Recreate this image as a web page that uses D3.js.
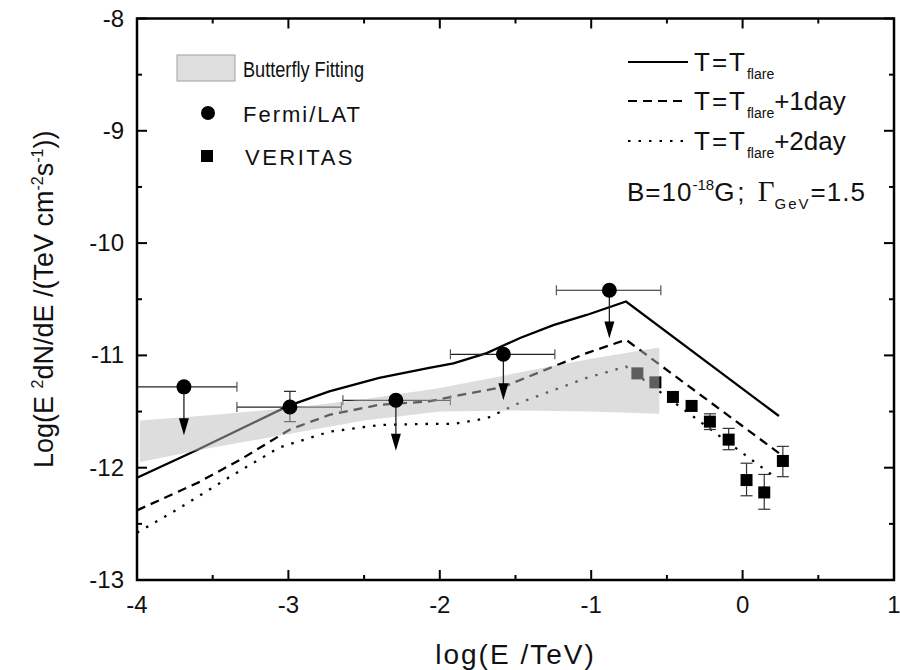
<!DOCTYPE html>
<html>
<head>
<meta charset="utf-8">
<script src="https://cdn.jsdelivr.net/npm/d3@7"></script>
<style>
  body { margin: 0; background: white; }
  svg { display: block; }
  text { font-family: "Liberation Sans", Arial, sans-serif; fill: #111; }
</style>
</head>
<body>
<script>
// Fermi/LAT points
const fermiX = [-3.69, -2.99, -2.29, -1.58, -0.88];
const fermiY = [-11.28, -11.46, -11.40, -10.99, -10.42];
const fermiXLo = [-4.0, -3.34, -2.64, -1.93, -1.23];
const fermiXHi = [-3.34, -2.65, -1.93, -1.24, -0.54];
const fermiYLo = [null, -11.59, null, null, null];
const fermiYHi = [null, -11.32, null, null, null];
const fermiArrowTo = [-11.71, null, -11.85, -11.40, -10.85];

// VERITAS points
const veritasX = [-0.695, -0.576, -0.46, -0.337, -0.216, -0.092, 0.026, 0.143, 0.266];
const veritasY = [-11.16, -11.24, -11.37, -11.45, -11.59, -11.75, -12.11, -12.22, -11.94];
const veritasYLo = [null, null, null, null, -11.66, -11.84, -12.25, -12.37, -12.08];
const veritasYHi = [null, null, null, null, -11.52, -11.65, -11.96, -12.06, -11.81];

// butterfly band
const bandX = [-3.98, -3.5, -3.0, -2.5, -2.0, -1.5, -1.0, -0.55];
const bandUp = [-11.58, -11.53, -11.47, -11.39, -11.29, -11.16, -11.03, -10.93];
const bandLow = [-11.95, -11.82, -11.70, -11.58, -11.50, -11.49, -11.50, -11.52];

// model curves
const solidX = [-4, -3.6, -3.0, -2.73, -2.4, -2.07, -1.91, -1.69, -1.47, -1.25, -1.03, -0.77, 0.24];
const solidY = [-12.09, -11.84, -11.45, -11.32, -11.2, -11.11, -11.07, -10.98, -10.845, -10.73, -10.64, -10.52, -11.54];
const dashX = [-4, -3.6, -3.32, -2.99, -2.73, -2.4, -2.07, -1.91, -1.58, -1.25, -1.03, -0.77, 0.24];
const dashY = [-12.38, -12.135, -11.93, -11.66, -11.53, -11.44, -11.41, -11.365, -11.28, -11.10, -10.98, -10.86, -11.87];
const dotX = [-4, -3.72, -3.385, -3.06, -2.73, -2.4, -2.07, -1.91, -1.69, -1.47, -1.25, -1.03, -0.77, 0.22];
const dotY = [-12.58, -12.36, -12.08, -11.82, -11.68, -11.62, -11.61, -11.61, -11.56, -11.42, -11.31, -11.20, -11.10, -12.09];

const xTicks = [-4, -3, -2, -1, 0, 1];
const yTicks = [-13, -12, -11, -10, -9, -8];

const width = 900, height = 670;
const margin = { left: 137, right: 6, top: 18.5, bottom: 90 };

const svg = d3.select("body").append("svg")
    .attr("width", width)
    .attr("height", height);

const x = d3.scaleLinear().domain([-4, 1]).range([margin.left, width - margin.right]);
const y = d3.scaleLinear().domain([-13, -8]).range([height - margin.bottom, margin.top]);

const plot = svg.append("g");

// curves
const line = d3.line().x(d => x(d[0])).y(d => y(d[1]));
const curves = [
    { xs: solidX, ys: solidY, dash: null },
    { xs: dashX, ys: dashY, dash: "9,6" },
    { xs: dotX, ys: dotY, dash: "2.5,8" }
];
curves.forEach(c => {
    plot.append("path")
        .datum(d3.zip(c.xs, c.ys))
        .attr("d", line)
        .attr("fill", "none")
        .attr("stroke", "#000")
        .attr("stroke-width", 2.3)
        .attr("stroke-dasharray", c.dash);
});

// VERITAS squares with error bars
veritasX.forEach((vx, i) => {
    if (veritasYLo[i] !== null) {
        plot.append("line")
            .attr("x1", x(vx)).attr("x2", x(vx))
            .attr("y1", y(veritasYLo[i])).attr("y2", y(veritasYHi[i]))
            .attr("stroke", "#333").attr("stroke-width", 1.2);
        [veritasYLo[i], veritasYHi[i]].forEach(v => {
            plot.append("line")
                .attr("x1", x(vx) - 6).attr("x2", x(vx) + 6)
                .attr("y1", y(v)).attr("y2", y(v))
                .attr("stroke", "#333").attr("stroke-width", 1.2);
        });
    }
    plot.append("rect")
        .attr("x", x(vx) - 6).attr("y", y(veritasY[i]) - 6)
        .attr("width", 12).attr("height", 12)
        .attr("fill", "#000");
});

// Fermi error bars
fermiX.forEach((fx, i) => {
    const cy = y(fermiY[i]);
    plot.append("line")
        .attr("x1", x(fermiXLo[i])).attr("x2", x(fermiXHi[i]))
        .attr("y1", cy).attr("y2", cy)
        .attr("stroke", "#222").attr("stroke-width", 1.2);
    [fermiXLo[i], fermiXHi[i]].forEach(v => {
        plot.append("line")
            .attr("x1", x(v)).attr("x2", x(v))
            .attr("y1", cy - 5).attr("y2", cy + 5)
            .attr("stroke", "#555").attr("stroke-width", 1.2);
    });
    if (fermiYLo[i] !== null) {
        plot.append("line")
            .attr("x1", x(fx)).attr("x2", x(fx))
            .attr("y1", y(fermiYLo[i])).attr("y2", y(fermiYHi[i]))
            .attr("stroke", "#222").attr("stroke-width", 1.2);
        [fermiYLo[i], fermiYHi[i]].forEach(v => {
            plot.append("line")
                .attr("x1", x(fx) - 6).attr("x2", x(fx) + 6)
                .attr("y1", y(v)).attr("y2", y(v))
                .attr("stroke", "#222").attr("stroke-width", 1.2);
        });
    }
});

// butterfly band (semi transparent, on top of the lines)
const area = d3.area()
    .x(d => x(d[0]))
    .y0(d => y(d[1]))
    .y1(d => y(d[2]));
plot.append("path")
    .datum(d3.zip(bandX, bandLow, bandUp))
    .attr("d", area)
    .attr("fill", "#bcbcbc")
    .attr("fill-opacity", 0.5);

// Fermi circles and upper-limit arrows
fermiX.forEach((fx, i) => {
    const cx = x(fx), cy = y(fermiY[i]);
    if (fermiArrowTo[i] !== null) {
        const ty = y(fermiArrowTo[i]);
        plot.append("line")
            .attr("x1", cx).attr("x2", cx)
            .attr("y1", cy).attr("y2", ty - 12)
            .attr("stroke", "#222").attr("stroke-width", 1.3);
        plot.append("path")
            .attr("d", `M${cx - 5},${ty - 17}L${cx + 5},${ty - 17}L${cx},${ty}Z`)
            .attr("fill", "#000");
    }
    plot.append("circle")
        .attr("cx", cx).attr("cy", cy).attr("r", 7.5)
        .attr("fill", "#000");
});

// frame and ticks
const axes = svg.append("g");
const x0 = x(-4), x1 = x(1), y0 = y(-13), y1 = y(-8);
d3.range(-4, 1.01, 0.5).forEach(v => {
    const len = Number.isInteger(v) ? 10 : 5;
    axes.append("line").attr("x1", x(v)).attr("x2", x(v)).attr("y1", y0).attr("y2", y0 - len)
        .attr("stroke", "#000").attr("stroke-width", 2);
    axes.append("line").attr("x1", x(v)).attr("x2", x(v)).attr("y1", y1).attr("y2", y1 + len)
        .attr("stroke", "#000").attr("stroke-width", 2);
});
d3.range(-13, -7.99, 0.5).forEach(v => {
    const len = Number.isInteger(v) ? 10 : 5;
    axes.append("line").attr("x1", x0).attr("x2", x0 + len).attr("y1", y(v)).attr("y2", y(v))
        .attr("stroke", "#000").attr("stroke-width", 2);
    axes.append("line").attr("x1", x1).attr("x2", x1 - len).attr("y1", y(v)).attr("y2", y(v))
        .attr("stroke", "#000").attr("stroke-width", 2);
});
axes.append("rect")
    .attr("x", x0).attr("y", y1)
    .attr("width", x1 - x0).attr("height", y0 - y1)
    .attr("fill", "none").attr("stroke", "#000").attr("stroke-width", 2.5);

axes.selectAll(".xt").data(xTicks).join("text")
    .attr("x", d => x(d)).attr("y", y0 + 33)
    .attr("text-anchor", "middle")
    .style("font-size", "24px")
    .text(d => d);
axes.selectAll(".yt").data(yTicks).join("text")
    .attr("x", x0 - 13).attr("y", d => y(d) + 8)
    .attr("text-anchor", "end")
    .style("font-size", "24px")
    .text(d => d);

// axis titles
svg.append("text")
    .attr("x", (x0 + x1) / 2).attr("y", 664)
    .attr("text-anchor", "middle")
    .style("font-size", "28px")
    .style("letter-spacing", "2px")
    .text("log(E /TeV)");

const yl = svg.append("text")
    .attr("transform", `translate(53,${(y0 + y1) / 2}) rotate(-90)`)
    .attr("text-anchor", "middle")
    .style("font-size", "27px");
yl.append("tspan").text("Log(E ");
yl.append("tspan").attr("dy", -10).style("font-size", "16px").text("2");
yl.append("tspan").attr("dy", 10).text("dN/dE /(TeV cm");
yl.append("tspan").attr("dy", -10).style("font-size", "16px").text("-2");
yl.append("tspan").attr("dy", 10).text("s");
yl.append("tspan").attr("dy", -10).style("font-size", "16px").text("-1");
yl.append("tspan").attr("dy", 10).text("))");

// left legend
const lg = svg.append("g");
lg.append("rect").attr("x", 177).attr("y", 55).attr("width", 58).attr("height", 26)
    .attr("fill", "#dedede").attr("stroke", "#a0a0a0").attr("stroke-width", 1);
lg.append("text").attr("x", 243).attr("y", 77).style("font-size", "22px")
    .attr("textLength", 121).attr("lengthAdjust", "spacingAndGlyphs").text("Butterfly Fitting");
lg.append("circle").attr("cx", 208).attr("cy", 113).attr("r", 7).attr("fill", "#000");
lg.append("text").attr("x", 243).attr("y", 122).style("font-size", "22px")
    .style("letter-spacing", "2px").text("Fermi/LAT");
lg.append("rect").attr("x", 201).attr("y", 150).attr("width", 12).attr("height", 12).attr("fill", "#000");
lg.append("text").attr("x", 245).attr("y", 165).style("font-size", "22px")
    .style("letter-spacing", "2.5px").text("VERITAS");

// right legend
const rg = svg.append("g");
const rLines = [
    { y: 62, dash: null, tail: "" },
    { y: 101, dash: "9,6", tail: "+1day" },
    { y: 141, dash: "2.5,8", tail: "+2day" }
];
rLines.forEach(r => {
    rg.append("line").attr("x1", 628).attr("x2", 688).attr("y1", r.y).attr("y2", r.y)
        .attr("stroke", "#000").attr("stroke-width", 2).attr("stroke-dasharray", r.dash);
    const t = rg.append("text").attr("x", 694).attr("y", r.y + 9).style("font-size", "26px");
    t.append("tspan").style("letter-spacing", "2px").text("T=T");
    t.append("tspan").attr("dy", 8).style("font-size", "14px").text("flare");
    t.append("tspan").attr("dy", -8).text(r.tail);
});
const bt = rg.append("text").attr("x", 627).attr("y", 201).style("font-size", "26px");
bt.append("tspan").style("letter-spacing", "1px").text("B=10");
bt.append("tspan").attr("dy", -11).style("font-size", "15px").text("-18");
bt.append("tspan").attr("dy", 11).style("letter-spacing", "3px").text("G; ");
bt.append("tspan").style("font-family", "'Liberation Serif', serif").style("font-size", "29px").text("Γ");
bt.append("tspan").attr("dy", 8).style("font-size", "15px").style("letter-spacing", "2px").text("GeV");
bt.append("tspan").attr("dy", -8).style("letter-spacing", "1px").text("=1.5");
</script>
</body>
</html>
